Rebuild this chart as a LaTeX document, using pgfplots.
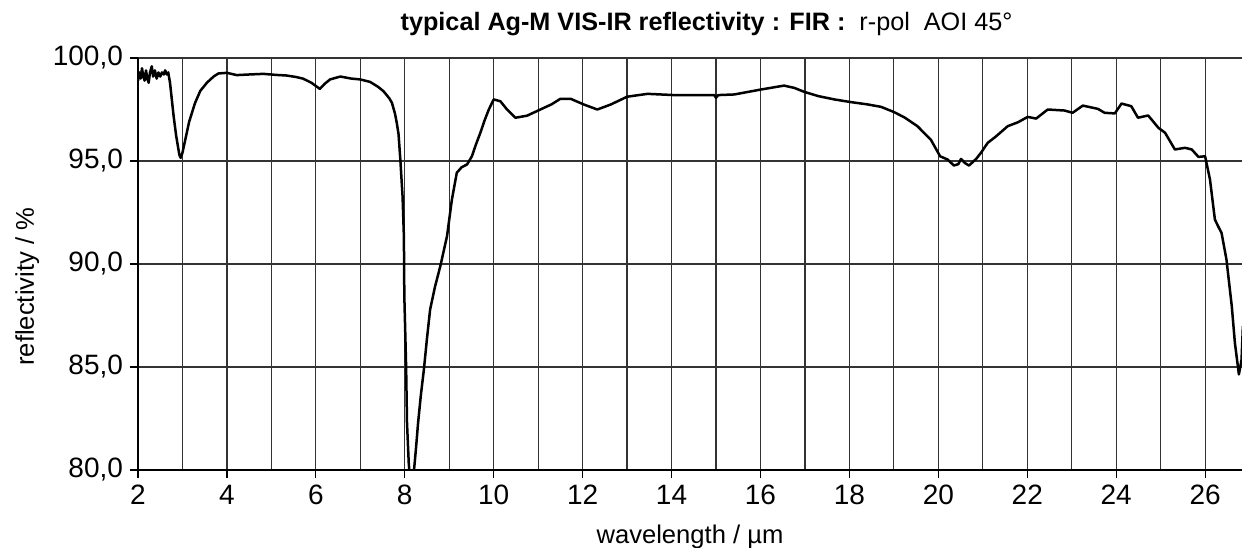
\documentclass[border=0pt]{standalone}
\usepackage{fontspec}
\setmainfont{Liberation Sans}
\usepackage{pgfplots}
\pgfplotsset{compat=1.18}

\begin{document}
\begin{tikzpicture}
\begin{axis}[
    at={(0,0)}, anchor=south west,
    scale only axis,
    width=552pt, height=206pt,
    xmin=2, xmax=26.83,
    ymin=80, ymax=100,
    xtick={2,4,...,26},
    minor xtick={3,5,...,25},
    ytick={80,85,...,100},
    grid=both,
    grid style={line width=0.6pt, draw=black!80},
    minor grid style={line width=0.6pt, draw=black!80},
    axis lines=left,
    axis line style={-, line width=0.7pt},
    tick align=outside,
    major tick length=4pt,
    minor tick length=0pt,
    tick style={black, line width=0.6pt},
    xtick pos=bottom, ytick pos=left,
    /pgf/number format/assume math mode=true,
    yticklabel style={/pgf/number format/.cd, fixed, fixed zerofill, precision=1, use comma},
    ticklabel style={font=\fontsize{14}{16}\selectfont},
    label style={font=\fontsize{12.8}{15}\selectfont},
    xlabel={wavelength / µm},
    xlabel style={yshift=-3pt},
    ylabel={reflectivity / \%},
    ylabel style={at={(ticklabel cs:0.445)}},
    title={\textbf{typical Ag-M VIS-IR reflectivity : FIR :}\ \ r-pol\ \ AOI 45°},
    title style={at={(0.515,1)}, anchor=center, yshift=11pt, font=\fontsize{12.6}{14}\selectfont},
]
\addplot[black, line width=1.25pt, line join=round] coordinates {
(2.00,98.9) (2.03,99.3) (2.06,99.0) (2.09,99.5) (2.12,99.1) (2.15,98.9)
(2.18,99.4) (2.21,99.0) (2.24,98.8) (2.27,99.3) (2.31,99.6) (2.34,99.1)
(2.38,99.4) (2.42,99.0) (2.46,99.3) (2.50,99.1) (2.54,99.3) (2.58,99.2)
(2.61,99.4) (2.65,99.2) (2.68,99.3) (2.72,98.8) (2.76,98.0) (2.80,97.2)
(2.86,96.2) (2.93,95.3) (2.96,95.15) (3.00,95.4) (3.06,96.0) (3.15,96.9)
(3.28,97.8) (3.40,98.4) (3.55,98.8) (3.70,99.1) (3.81,99.25) (4.00,99.28)
(4.22,99.17) (4.50,99.2) (4.82,99.23) (5.10,99.18) (5.34,99.15) (5.55,99.08)
(5.71,99.0) (5.90,98.8) (6.09,98.5) (6.20,98.75) (6.32,98.96) (6.55,99.1)
(6.80,99.0) (7.00,98.96) (7.22,98.84) (7.40,98.6) (7.52,98.39) (7.65,98.05)
(7.71,97.83) (7.78,97.3) (7.82,96.85) (7.86,96.3) (7.90,95.07) (7.93,94.0)
(7.95,93.3) (7.98,91.35) (7.99,88.44) (8.03,85.04) (8.05,82.3) (8.09,80.3)
(8.11,79.8) (8.20,79.8) (8.25,81.0) (8.30,82.3) (8.36,83.6) (8.43,84.88)
(8.50,86.4) (8.57,87.79) (8.68,88.9) (8.80,89.9) (8.95,91.35) (9.06,93.13)
(9.17,94.43) (9.28,94.7) (9.40,94.83) (9.51,95.23) (9.60,95.8) (9.70,96.37)
(9.80,97.0) (9.89,97.5) (10.0,97.99) (10.15,97.9) (10.30,97.5) (10.49,97.1)
(10.75,97.2) (11.05,97.5) (11.30,97.75) (11.50,98.02) (11.73,98.02) (12.03,97.74)
(12.33,97.5) (12.63,97.74) (13.00,98.12) (13.46,98.26) (14.06,98.2) (14.50,98.2)
(14.96,98.2) (15.00,98.07) (15.05,98.2) (15.41,98.23) (16.01,98.47) (16.53,98.66)
(16.76,98.55) (16.98,98.36) (17.30,98.15) (17.66,97.99) (18.03,97.86) (18.40,97.75)
(18.71,97.63) (19.01,97.37) (19.25,97.1) (19.53,96.69) (19.83,96.04) (20.04,95.23)
(20.21,95.07) (20.35,94.78) (20.45,94.85) (20.51,95.1) (20.60,94.9) (20.69,94.78)
(20.85,95.1) (20.96,95.4) (21.11,95.88) (21.30,96.2) (21.56,96.69) (21.79,96.88)
(22.01,97.14) (22.20,97.06) (22.46,97.5) (22.84,97.45) (23.02,97.34) (23.25,97.69)
(23.59,97.53) (23.74,97.34) (23.97,97.31) (24.12,97.79) (24.34,97.66) (24.49,97.1)
(24.72,97.21) (24.95,96.61) (25.10,96.37) (25.32,95.56) (25.55,95.64) (25.70,95.56)
(25.85,95.2) (26.00,95.23) (26.11,94.1) (26.22,92.16) (26.30,91.8) (26.37,91.51)
(26.48,90.22) (26.60,87.95) (26.67,86.17) (26.76,84.64) (26.82,85.36) (26.85,86.98)
};
\end{axis}
\pgfresetboundingbox
\path (-69pt,-38.75pt) rectangle (552pt,235pt);
\end{tikzpicture}
\end{document}
